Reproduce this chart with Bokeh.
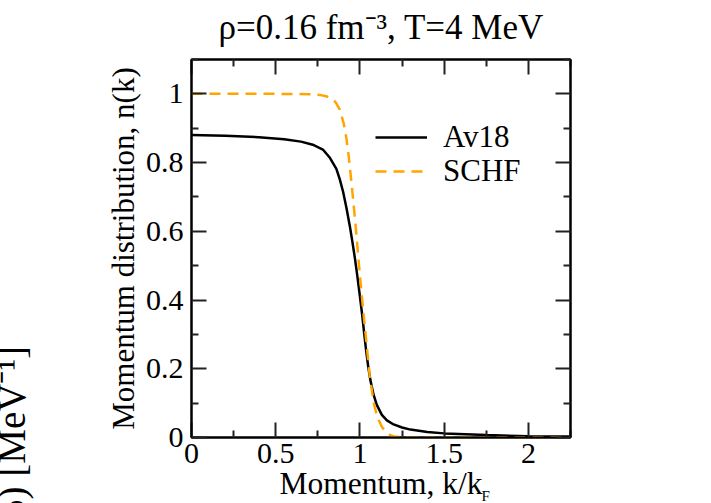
import math
from bokeh.plotting import figure
from bokeh.models import (Label, Legend, LegendItem, LinearAxis, FixedTicker,
                          Range1d)
from bokeh.embed import file_html
from bokeh.resources import INLINE

# ---- data ----
k_av18 = [0.0, 0.2, 0.4, 0.55, 0.65, 0.72, 0.78, 0.82, 0.86, 0.88, 0.90, 0.92,
          0.94, 0.955, 0.97, 0.985, 1.0, 1.013, 1.025, 1.037, 1.05, 1.062,
          1.08, 1.10, 1.13, 1.16, 1.20, 1.25, 1.30, 1.40, 1.50, 1.75, 2.0, 2.25]
n_av18 = [0.880, 0.878, 0.874, 0.868, 0.861, 0.852, 0.838, 0.815, 0.782, 0.752,
          0.715, 0.668, 0.615, 0.570, 0.522, 0.468, 0.410, 0.358, 0.304, 0.252,
          0.203, 0.167, 0.126, 0.095, 0.066, 0.050, 0.038, 0.029, 0.023, 0.016,
          0.012, 0.007, 0.004, 0.003]

k_schf = [0.0, 0.5, 0.70, 0.76, 0.80, 0.83, 0.854, 0.88, 0.904, 0.92, 0.933,
          0.954, 0.973, 0.993, 1.0, 1.019, 1.039, 1.058, 1.082, 1.10, 1.112,
          1.13, 1.152, 1.18, 1.20, 1.25, 1.30, 2.25]
n_schf = [1.0, 1.0, 0.999, 0.997, 0.993, 0.987, 0.977, 0.955, 0.913, 0.870,
          0.820, 0.720, 0.623, 0.510, 0.470, 0.371, 0.274, 0.180, 0.100, 0.066,
          0.050, 0.031, 0.017, 0.007, 0.003, 0.001, 0.0, 0.0]

series_names = ["Av18", "SCHF"]
x_tick_labels = ["0", "0.5", "1", "1.5", "2"]
x_minor = [0.25, 0.75, 1.25, 1.75, 2.25]
y_tick_labels = ["0", "0.2", "0.4", "0.6", "0.8", "1"]
y_minor = [0.1, 0.3, 0.5, 0.7, 0.9, 1.1]

title_text = "ρ=0.16 fm⁻³, T=4 MeV"
xlabel_main = "Momentum, k/k"
xlabel_sub = "F"
ylabel = "Momentum distribution, n(k)"
fragment_text = "5) [MeV⁻¹]"

FONT = "Liberation Serif"
W, H = 711, 503
FL, FR, FT, FB = 191, 570, 59, 437.5

p = figure(width=W, height=H, x_range=Range1d(0, 2.25), y_range=Range1d(0, 1.1),
           output_backend="svg", toolbar_location=None,
           min_border_left=int(FL), min_border_right=int(W - FR),
           min_border_top=int(FT), min_border_bottom=int(H - FB))
p.xgrid.visible = False
p.ygrid.visible = False
p.outline_line_color = "black"
p.outline_line_width = 2
p.background_fill_color = "white"
p.border_fill_color = "white"


def style(ax, ticks, minor, labels):
    ax.ticker = FixedTicker(ticks=ticks, minor_ticks=minor)
    ax.major_tick_in = 15
    ax.major_tick_out = 0
    ax.minor_tick_in = 7
    ax.minor_tick_out = 0
    ax.major_tick_line_width = 2
    ax.minor_tick_line_width = 2
    ax.major_tick_line_color = "#222222"
    ax.minor_tick_line_color = "#222222"
    ax.axis_line_width = 2
    ax.axis_line_color = "black"
    ax.major_label_text_font = FONT
    ax.major_label_text_color = "black"
    ax.axis_label_text_font = FONT
    ax.axis_label_text_font_style = "normal"
    ax.axis_label_text_color = "black"
    if labels is None:
        ax.major_label_text_font_size = "0px"
    else:
        ax.major_label_text_font_size = "30px"
        ax.major_label_overrides = dict(zip(ticks, labels))


x_ticks = [float(s) for s in x_tick_labels]
y_ticks = [float(s) for s in y_tick_labels]

xa = p.xaxis[0]
style(xa, x_ticks, x_minor, x_tick_labels)
xa.major_label_standoff = 6
xa.axis_label = xlabel_main
xa.axis_label_text_font_size = "31.5px"
xa.axis_label_standoff = 0

ya = p.yaxis[0]
style(ya, y_ticks, y_minor, y_tick_labels)
ya.major_label_standoff = 8
ya.axis_label = ylabel
ya.axis_label_text_font_size = "31px"
ya.axis_label_standoff = 2

top_ax = LinearAxis()
style(top_ax, x_ticks, x_minor, None)
p.add_layout(top_ax, "above")
right_ax = LinearAxis()
style(right_ax, y_ticks, y_minor, None)
p.add_layout(right_ax, "right")

r1 = p.line(k_av18, n_av18, line_color="black", line_width=2.5)
r2 = p.line(k_schf, n_schf, line_color="#FFA500", line_width=2.5,
            line_dash="11 7")

# one single-row legend per series, so that the row pitch matches
for r, name, row_y in [(r1, series_names[0], 138), (r2, series_names[1], 172)]:
    p.add_layout(Legend(items=[LegendItem(label=name, renderers=[r])],
                        location=(184, FB - row_y - 17.5), glyph_width=52,
                        glyph_height=30, label_standoff=16, label_text_font=FONT,
                        label_text_color="black", label_text_font_size="31px",
                        background_fill_alpha=0, border_line_alpha=0,
                        padding=0, margin=0))

# Labels placed in side panels are not clipped to the frame; their screen
# coordinates are relative to their own slot in that panel.
# title: slot in the "above" panel
p.add_layout(Label(x=218 - FL, y=32, x_units="screen", y_units="screen",
                   text=title_text, text_font=FONT, text_font_size="35px",
                   text_color="black", text_baseline="alphabetic"), "above")

# subscript of the x label (slot in the right panel)
p.add_layout(Label(x=-89, y=FB - 496, x_units="screen",
                   y_units="screen", text=xlabel_sub, text_font=FONT,
                   text_font_size="15px", text_color="black",
                   text_baseline="alphabetic"), "right")

# cut-off fragment of a neighbouring panel's label (slot in the left panel)
p.add_layout(Label(x=-48.5, y=-81.5, x_units="screen", y_units="screen",
                   text=fragment_text, text_font=FONT, text_font_size="39px",
                   text_color="black", text_baseline="alphabetic",
                   text_align="left", angle=math.pi / 2), "left")

open("out.html", "w").write(file_html(p, INLINE))
